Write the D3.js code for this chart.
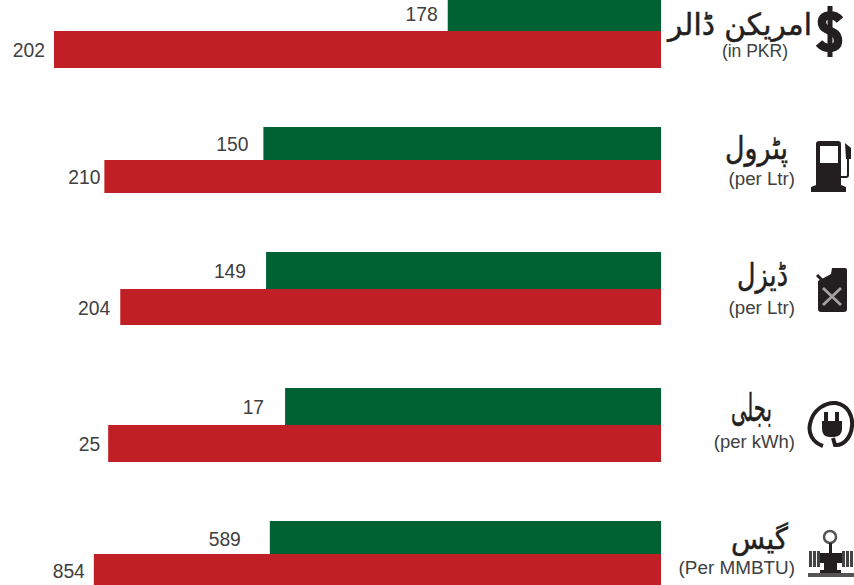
<!DOCTYPE html>
<html><head><meta charset="utf-8">
<script src="https://cdn.jsdelivr.net/npm/d3@7"></script>
<style>html,body{margin:0;padding:0;background:#fff;overflow:hidden}svg{display:block}
text{font-family:"Liberation Sans",Arial,sans-serif}</style></head>
<body><svg id="c" width="854" height="585"></svg>
<script>
// data
const categories = ["امریکن ڈالر","پٹرول","ڈیزل","بجلی","گیس"];
const units = ["(in PKR)","(per Ltr)","(per Ltr)","(per kWh)","(Per MMBTU)"];
const greenValues = [178,150,149,17,589];
const redValues = [202,210,204,25,854];
// each row of the graphic has its own value axis
const axisMin = [165,0,0,0,0];
const axisMax = [202,229,229,27.45,914];
// layout
const rowTop = [-6,127,252,388,521];
const rowMid = [31,160,289,425,554];
const rowBottom = [68,193,325,462,590];
const greenLabelGap = [10,15,20,21,29];
const redLabelGap = [9,4,10,8,9];
const greenLabelY = [21,151,278,414,546];
const redLabelY = [57,184,315,451,578];
const urduX = [812,788,788,772,788];
const urduY = [35,159,286,421,549];
const urduSize = [30,32,32,38,30];
const urduWidth = [144,63,51,41,57];
const unitX = [788,795,795,795,795];
const unitY = [57,185,314,448,574];
const unitSize = [17.5,18.7,18.7,18.5,18.9];
const colors = {green:"#006233",red:"#c01f25",label:"#404040",ink:"#231f20"};

const svg = d3.select("#c");
const rows = d3.range(categories.length);
const xs = rows.map(i=>d3.scaleLinear().domain([axisMin[i],axisMax[i]]).range([661,54]));

const g = svg.selectAll("g.row").data(rows).join("g").attr("class","row");
g.append("rect").attr("x",i=>xs[i](greenValues[i])).attr("y",i=>rowTop[i])
 .attr("width",i=>661-xs[i](greenValues[i])).attr("height",i=>rowMid[i]-rowTop[i]).attr("fill",colors.green);
g.append("rect").attr("x",i=>xs[i](redValues[i])).attr("y",i=>rowMid[i])
 .attr("width",i=>661-xs[i](redValues[i])).attr("height",i=>rowBottom[i]-rowMid[i]).attr("fill",colors.red);
g.append("text").attr("x",i=>xs[i](greenValues[i])-greenLabelGap[i]).attr("y",i=>greenLabelY[i])
 .attr("text-anchor","end").attr("font-size",19.3).attr("fill",colors.label).text(i=>greenValues[i]);
g.append("text").attr("x",i=>xs[i](redValues[i])-redLabelGap[i]).attr("y",i=>redLabelY[i])
 .attr("text-anchor","end").attr("font-size",19.3).attr("fill",colors.label).text(i=>redValues[i]);
g.append("text").attr("x",i=>urduX[i]).attr("y",i=>urduY[i]).attr("direction","rtl").attr("text-anchor","start")
 .style("font-family","'DejaVu Sans'").attr("font-size",i=>urduSize[i]).attr("fill",colors.ink)
 .attr("stroke",colors.ink).attr("stroke-width",0.5)
 .attr("textLength",i=>urduWidth[i]).attr("lengthAdjust","spacingAndGlyphs").text(i=>categories[i]);
g.append("text").attr("x",i=>unitX[i]).attr("y",i=>unitY[i]).attr("text-anchor","end")
 .attr("font-size",i=>unitSize[i]).attr("fill",colors.label).text(i=>units[i]);

// icons
const ink = colors.ink;
// dollar
const dollar = svg.append("g").attr("fill","none").attr("stroke",ink);
dollar.append("path").attr("stroke-width",8.5).attr("d","M840 20 C835 14 822 13 822 22 C822 33 838 28 838 41 C838 50 825 50 819 43");
dollar.append("rect").attr("x",827.5).attr("y",6).attr("width",5).attr("height",51).attr("fill",ink).attr("stroke","none");
// fuel pump
const pump = svg.append("g").attr("fill",ink);
pump.append("path").attr("fill-rule","evenodd").attr("d","M816 144 Q816 141 819 141 L838 141 Q841 141 841 144 L841 185 L846 187 L846 192 L811 192 L811 187 L816 185 Z M820 146 L820 163 L838 163 L838 146 Z");
pump.append("path").attr("fill","none").attr("stroke",ink).attr("stroke-width",2).attr("d","M841 177 L846 177 Q848 177 848 175 L848 152");
pump.append("path").attr("d","M845 143 L851 148 L851 159 L846 159 Z");
// jerrycan
const can = svg.append("g");
can.append("path").attr("fill",ink).attr("d","M832 268 L845 268 Q847 268 847 270 L847 309 Q847 312 844 312 L821 312 Q818 312 818 309 L818 281 L831 274 Z");
can.append("path").attr("fill","none").attr("stroke",ink).attr("stroke-width",3).attr("d","M817 275 L823 281");
can.append("path").attr("fill","none").attr("stroke","#a3a3a3").attr("stroke-width",2.8).attr("d","M823 288 L841 305 M841 288 L823 305");
// plug
const plug = svg.append("g");
plug.append("path").attr("fill","none").attr("stroke",ink).attr("stroke-width",4).attr("d","M823 446 C812 442 808 433 810 424 C813 409 826 402 836 403 C848 405 853 416 852 426 C851 438 843 446 835 445 L833 438");
plug.append("path").attr("fill",ink).attr("d","M824 412 L828 412 L828 421 L835 421 L835 412 L839 412 L839 421 L842 421 L842 429 Q842 436 834 437 L829 437 Q822 436 822 429 L822 421 L824 421 Z");
// gas valve
const gas = svg.append("g");
gas.append("circle").attr("cx",830).attr("cy",537).attr("r",6).attr("fill","none").attr("stroke","#555").attr("stroke-width",2.5);
gas.append("rect").attr("x",829).attr("y",543).attr("width",3).attr("height",10).attr("fill",ink);
gas.append("rect").attr("x",820).attr("y",553).attr("width",22).attr("height",10).attr("fill",ink);
gas.append("rect").attr("x",824).attr("y",563).attr("width",13).attr("height",9).attr("fill",ink);
gas.append("rect").attr("x",820).attr("y",570).attr("width",21).attr("height",3).attr("fill",ink);
gas.append("rect").attr("x",808).attr("y",573).attr("width",46).attr("height",4).attr("fill","#555");
[809,813,817,842,846,850].forEach(x=>gas.append("rect").attr("x",x).attr("y",551).attr("width",3).attr("height",16).attr("fill","#444"));
</script></body></html>
